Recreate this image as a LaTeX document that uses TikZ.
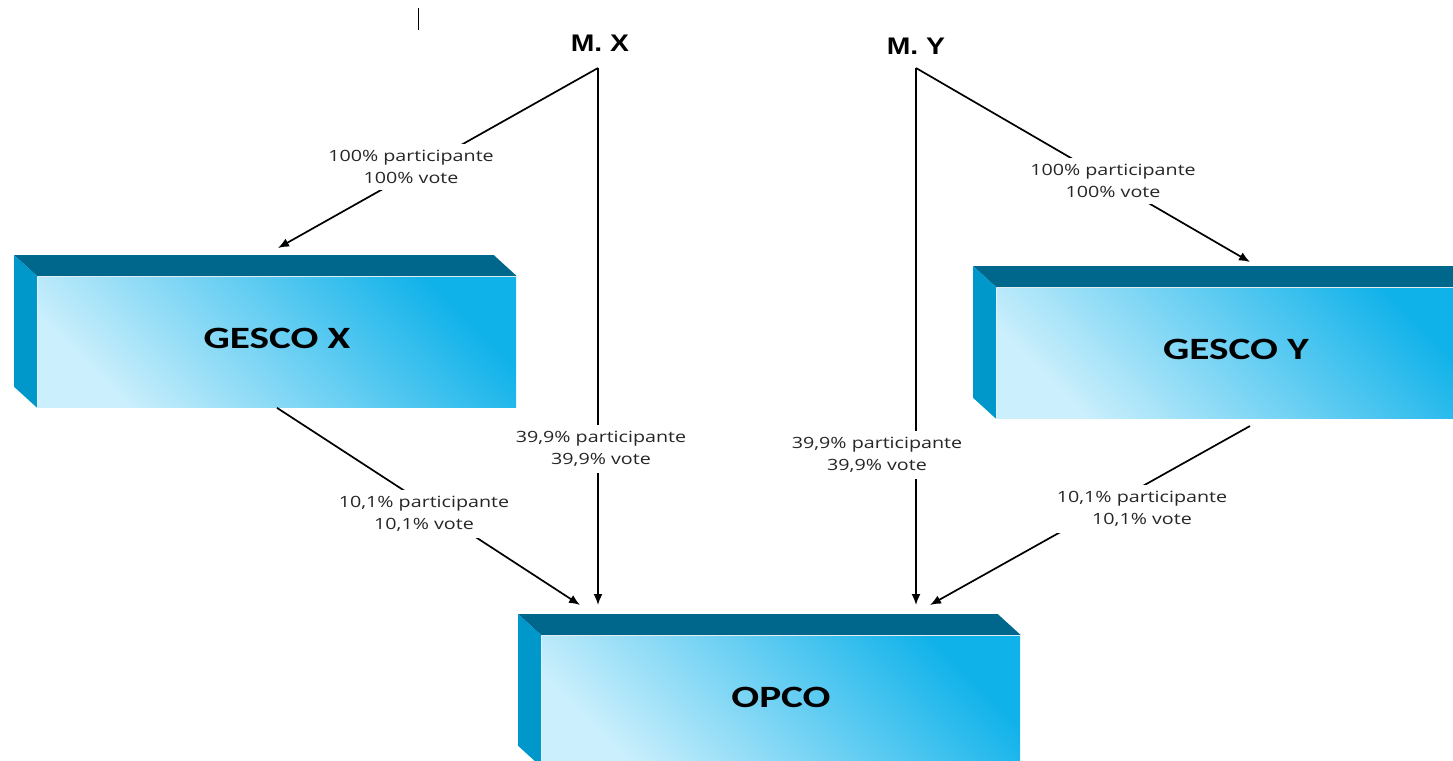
\documentclass[tikz,border=0pt]{standalone}
\usepackage{fontspec}
\usetikzlibrary{arrows.meta}
\newfontfamily\labelfont[FakeStretch=1.27]{Open Sans}
\newfontfamily\boxfont[FakeStretch=1.33]{Carlito}
\newfontfamily\ownerfont[FakeStretch=1.18]{Liberation Sans}

\definecolor{topblue}{HTML}{00678C}
\definecolor{sideblue}{HTML}{0098CB}
\definecolor{lightblue}{HTML}{CBEFFC}
\definecolor{midblue}{HTML}{78D4F4}
\definecolor{darkblue}{HTML}{10B2EA}

% top and left faces of a company box
\newcommand{\boxfaces}[1]{
    \fill[topblue] (#1.north west) -- ++(-23,-21) -- ([shift={(-23,-21)}]#1.north east) -- (#1.north east) -- cycle;
    \fill[sideblue] (#1.north west) -- ++(-23,-21) -- ([shift={(-23,-21)}]#1.south west) -- (#1.south west) -- cycle;
}

\begin{document}
\begin{tikzpicture}[x=1pt, y=-1pt, >={Latex[length=11pt,width=9pt]}, line width=1.7pt]
            \tikzstyle{company}=[rectangle,inner sep=0pt,minimum width=478pt,minimum height=130pt,
                left color=darkblue,middle color=midblue,right color=lightblue,shading angle=-45,text depth=8pt,
                font=\boxfont\bfseries\fontsize{31}{36}\selectfont]
            \tikzstyle{owner}=[font=\ownerfont\bfseries\fontsize{24}{28}\selectfont]
            \tikzstyle{share}=[fill=white,align=center,inner sep=6pt,text=black!85,
                font=\labelfont\fontsize{15.5}{22}\selectfont]

            \clip (0,0) rectangle (1453,760);

            \node[owner] (mX) at (600,43) {M. X};
            \node[owner] (mY) at (916,46) {M. Y};
            \coordinate (mXb) at (598,68);
            \coordinate (mYb) at (916,68);

            \node[company] (gX) at (277,342) {GESCO X};
            \node[company] (gY) at (1236,353) {GESCO Y};
            \node[company] (op) at (781,701) {OPCO};
            \boxfaces{gX}
            \boxfaces{gY}
            \boxfaces{op}

            \coordinate (gXin) at (278,248);
            \coordinate (gYin) at (1250,262);
            \coordinate (gYout) at (1250,426);
            \coordinate (opX1) at (580,605);
            \coordinate (opX2) at (598,605);
            \coordinate (opY1) at (916,605);
            \coordinate (opY2) at (930,605);

            \path[->] (mXb) edge (gXin) (mXb) edge (opX2) (gX.south) edge (opX1);
            \path[->] (mYb) edge (gYin) (mYb) edge (opY1) (gYout) edge (opY2);

            \node[share] (lXg) at (411,167) {100\% participante\\100\% vote};
            \node[share] (lXo) at (601,449) {39,9\% participante\\39,9\% vote};
            \node[share] (lXgo) at (424,514) {10,1\% participante\\10,1\% vote};
            \node[share] (lYg) at (1113,181) {100\% participante\\100\% vote};
            \node[share] (lYo) at (877,455) {39,9\% participante\\39,9\% vote};
            \node[share] (lYgo) at (1142,509) {10,1\% participante\\10,1\% vote};

            \coordinate (bar1) at (418,8);
            \coordinate (bar2) at (418,30);
            \draw[line width=1pt] (bar1) -- (bar2);

        \end{tikzpicture}
\end{document}
